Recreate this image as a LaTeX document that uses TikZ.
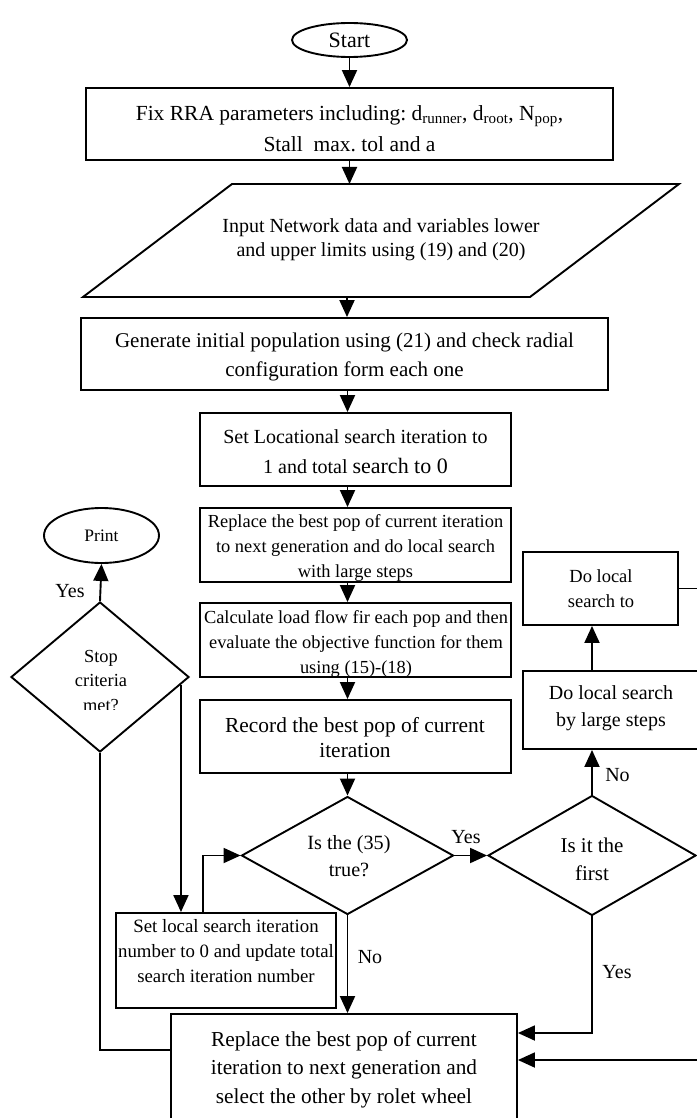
\documentclass[tikz,border=0pt]{standalone}
\usepackage{fontspec}
\setmainfont{Liberation Serif}
\usetikzlibrary{arrows.meta,shapes.geometric,calc}
\newcommand{\myfs}[2]{\fontsize{#1}{#2}\selectfont}
\frenchspacing
\tikzset{
 lw/.style={line width=1.9pt},
 box/.style={draw, lw, rectangle, inner sep=0pt},
 dia/.style={draw, lw, diamond, inner sep=0pt},
 ell/.style={draw, lw, ellipse, inner sep=0pt},
 txt/.style={align=center, inner sep=0pt},
 arr/.style={lw, -{Triangle[length=17pt,width=15pt]}},
 lbl/.style={inner sep=0pt, font=\myfs{20}{24}},
}
\begin{document}
\begin{tikzpicture}[x=1pt,y=-1pt]
\fill[white] (0,0) rectangle (696,1118);
\useasboundingbox (0,0) rectangle (696,1118);

\coordinate (spine) at (347.5,0);
\coordinate (c203) at (203,0);
\coordinate (yA) at (0,1033);
\coordinate (yB) at (0,1050);
\coordinate (offR1) at (700,588.5);
\coordinate (offR2) at (700,1060);

% main column
\node[ell, minimum width=115pt, minimum height=34pt, font=\myfs{22}{26}] (start) at (349.5,40) {Start};

\node[box, minimum width=527pt, minimum height=72pt] (fix) at (349.5,124) {};
\node[txt, font=\myfs{21.5}{31}] (fixt) at (349.5,128.4) {Fix RRA parameters including: d\textsubscript{runner}, d\textsubscript{root}, N\textsubscript{pop},\\Stall\ \ max. tol and a};

\draw[lw] (232,184) -- (679,184) -- (530,297) -- (83,297) -- cycle;
\coordinate (intop) at (349.5,184);
\coordinate (inbot) at (347,297);
\node[txt, font=\myfs{20}{24}] (inputt) at (381,239.3) {Input Network data and variables lower\\and upper limits using (19) and (20)};

\node[box, minimum width=527pt, minimum height=72pt] (gen) at (344.5,354) {};
\node[txt, font=\myfs{21}{29}] (gent) at (344.5,356.5) {Generate initial population using (21) and check radial\\configuration form each one};

\node[box, minimum width=311pt, minimum height=73pt] (setloc) at (355.5,449.5) {};
\node[txt, font=\myfs{20}{30}] (setloct) at (355.5,451.2) {Set Locational search iteration to\\1 and total {\myfs{22}{30}search to 0}};

\node[box, minimum width=311pt, minimum height=74pt] (reptop) at (355.5,545) {};
\node[txt, font=\myfs{18.4}{25}] (reptopt) at (355.5,547.7) {Replace the best pop of current iteration\\to next generation and do local search\\with large steps};

\node[box, minimum width=311pt, minimum height=74pt] (calc) at (355.5,640) {};
\node[txt, font=\myfs{18.4}{25}] (calct) at (356,643.7) {Calculate load flow fir each pop and then\\evaluate the objective function for them\\using (15)-(18)};

\node[box, minimum width=311pt, minimum height=73pt] (record) at (355.5,736.5) {};
\node[txt, font=\myfs{21.4}{25}] (recordt) at (355,737.2) {Record the best pop of current\\iteration};

\node[dia, minimum width=212pt, minimum height=118pt] (d1) at (347.5,855.5) {};
\node[txt, font=\myfs{20.2}{26.5}] (d1t) at (349,856) {Is the (35)\\true?};

% right branch
\node[dia, minimum width=208pt, minimum height=120pt] (d2) at (592,855.5) {};
\node[txt, font=\myfs{21}{28}] (d2t) at (592,858.9) {Is it the\\first};

\node[box, minimum width=176pt, minimum height=78pt] (dlbig) at (611,710) {};
\node[txt, font=\myfs{20}{27}] (dlbigt) at (611,707.8) {Do local search\\by large steps};

\node[box, minimum width=155pt, minimum height=73pt] (dlto) at (600.5,588.5) {};
\node[txt, font=\myfs{18.5}{25}] (dltot) at (601,588.2) {Do local\\search to};

% left branch
\node[dia, minimum width=178pt, minimum height=150pt] (stop) at (100,677) {};
\begin{scope}
\clip (0,600) rectangle (200,709.5);
\node[txt, font=\myfs{18.4}{24.5}] (stopt) at (101,680.7) {Stop\\criteria\\met?};
\end{scope}

\node[ell, minimum width=115pt, minimum height=55pt, font=\myfs{17.5}{21}] (print) at (101.5,535.5) {Print};

\node[box, minimum width=220pt, minimum height=95pt] (slb) at (226,960.5) {};
\node[txt, font=\myfs{18.8}{25}] (slbt) at (226,950.6) {Set local search iteration\\number to 0 and update total\\search iteration number};

\node[box, minimum width=346pt, minimum height=111pt] (repbot) at (344,1069.5) {};
\node[txt, font=\myfs{21.3}{28.5}] (repbott) at (344,1069.5) {Replace the best pop of current\\iteration to next generation and\\select the other by rolet wheel};

% labels
\node[lbl] (yes1) at (466,837.4) {Yes};
\node[lbl] (no1) at (370,957.4) {No};
\node[lbl] (yes2) at (617,972.4) {Yes};
\node[lbl] (no2) at (617.5,775.4) {No};
\node[lbl] (yes3) at (70,591.4) {Yes};

% connectors
\draw[arr] (start.south) -- (fix.north);
\draw[arr] (fix.south) -- (intop);
\draw[arr] (inbot) -- (inbot |- gen.north);
\draw[arr] (gen.south -| spine) -- (setloc.north -| spine);
\draw[arr] (setloc.south -| spine) -- (reptop.north -| spine);
\draw[arr] (reptop.south -| spine) -- (calc.north -| spine);
\draw[arr] (calc.south -| spine) -- (record.north -| spine);
\draw[arr] (record.south -| spine) -- (d1.north);
\draw[arr] (d1.east) -- (d2.west);
\draw[arr] (d1.south) -- (repbot.north -| spine);
\draw[arr] (d2.north) -- (d2.north |- dlbig.south);
\draw[arr] (dlbig.north -| d2.north) -- (dlto.south -| d2.north);
\draw[lw] (dlto.east) -- (offR1);
\draw[arr] (d2.south) |- (repbot.east |- yA);
\draw[arr] (offR2) -- (repbot.east |- offR2);
\draw[lw] (repbot.west |- yB) -| (stop.south);
\draw[arr] (stop.north) -- (print.south);
\coordinate (sr) at ($(stop.east)!0.1!(stop.south)$);
\draw[arr] (sr) -- (sr |- slb.north);
\draw[arr] (slb.north -| c203) |- (d1.west);
\end{tikzpicture}
\end{document}
